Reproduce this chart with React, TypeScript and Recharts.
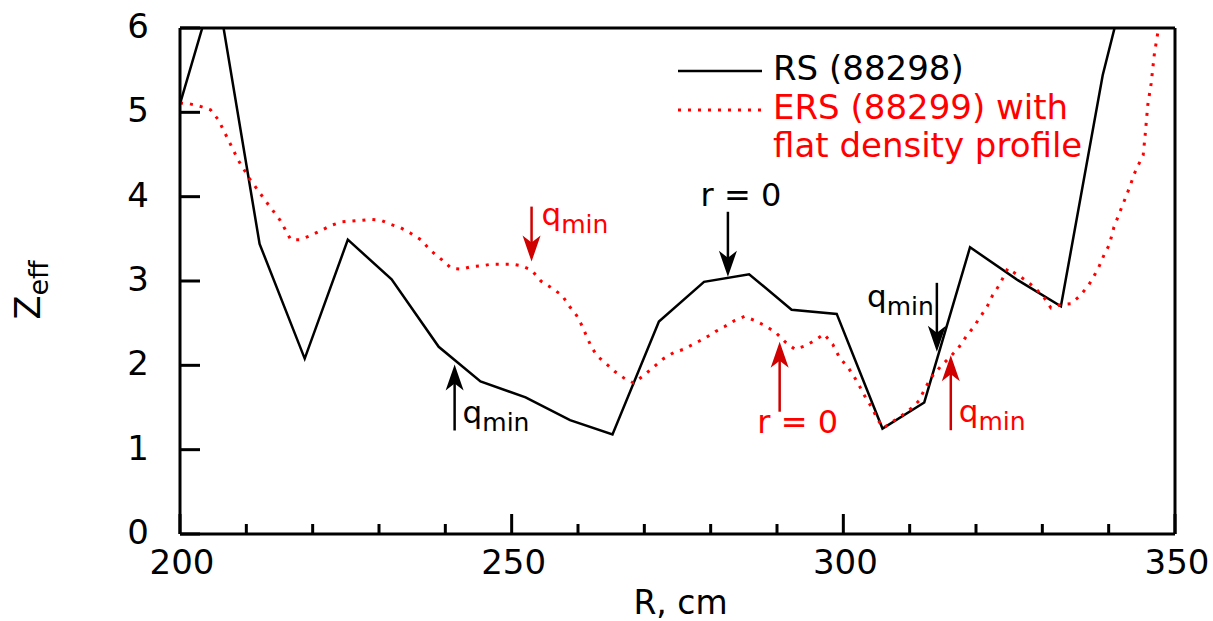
import React from 'react'
import { LineChart, Line, XAxis, YAxis, ReferenceDot, Legend } from 'recharts'

// RS (88298) shot, solid black
const rsR = [200, 205.4, 212.0, 218.8, 225.3, 231.9, 239.0, 245.3, 252.1, 258.8, 265.2, 272.2, 279.0, 285.8, 292.2, 299.0, 305.9, 312.2, 319.1, 326.3, 332.8, 339.1, 346.0]
const rsZ = [5.1, 6.55, 3.44, 2.08, 3.49, 3.02, 2.22, 1.81, 1.62, 1.35, 1.18, 2.52, 2.99, 3.08, 2.66, 2.61, 1.25, 1.56, 3.4, 3.01, 2.7, 5.44, 7.6]

// ERS (88299) shot, red dotted
const ersR = [
  200, 201.5, 203.1, 204.6, 205.8, 207.3, 208.8, 210.6, 212.9, 215.1, 216.7, 218.1, 219.7, 221.3, 222.8, 224.3,
  227.3, 228.8, 230.3, 231.8, 233.3, 234.7, 236.3, 237.8, 239.5, 240.9, 242.4, 243.9, 245.5, 247.0, 250.1, 251.5,
  253.0, 254.4, 255.8, 257.6, 258.7, 259.8, 260.6, 262.0, 262.9, 264.1, 265.5, 267.1, 268.4, 269.9, 271.4, 272.9,
  274.4, 275.9, 277.6, 279.1, 280.7, 282.1, 283.6, 285.1, 286.7, 288.2, 289.8, 291.2, 292.7, 294.2, 295.8, 297.1,
  298.4, 299.5, 300.6, 301.6, 302.6, 303.4, 304.4, 305.1, 306.1, 307.4, 308.9, 310.4, 311.4, 312.4, 313.4, 314.7,
  316.1, 317.3, 318.5, 319.6, 320.7, 321.7, 322.5, 323.5, 324.8, 326.3, 327.8, 329.0, 330.3, 331.3, 332.8, 334.3,
  335.6, 336.9, 337.8, 338.6, 339.3, 340.1, 340.8, 341.5, 342.1, 342.7, 343.3, 343.8, 344.5, 345.2, 345.5, 345.9,
  346.4, 346.9, 347.4, 347.9,
]
const ersZ = [
  5.11, 5.1, 5.07, 5.03, 4.91, 4.67, 4.43, 4.2, 3.95, 3.72, 3.49, 3.49, 3.54, 3.6, 3.66, 3.7,
  3.72, 3.73, 3.72, 3.67, 3.63, 3.57, 3.49, 3.36, 3.25, 3.15, 3.14, 3.17, 3.18, 3.2, 3.2, 3.18,
  3.13, 3.0, 2.93, 2.83, 2.7, 2.59, 2.47, 2.22, 2.11, 2.03, 1.93, 1.84, 1.79, 1.88, 1.98, 2.08,
  2.15, 2.19, 2.26, 2.32, 2.4, 2.46, 2.53, 2.58, 2.53, 2.47, 2.39, 2.28, 2.19, 2.23, 2.3, 2.37,
  2.25, 2.08, 1.99, 1.87, 1.73, 1.61, 1.49, 1.36, 1.26, 1.33, 1.41, 1.5, 1.58, 1.74, 1.87, 1.99,
  2.1, 2.2, 2.34, 2.45, 2.58, 2.7, 2.83, 2.95, 3.15, 3.07, 2.99, 2.91, 2.8, 2.68, 2.72, 2.73,
  2.82, 2.94, 3.06, 3.18, 3.31, 3.43, 3.64, 3.78, 3.9, 4.02, 4.14, 4.26, 4.38, 4.49, 4.73, 5.09,
  5.34, 5.7, 5.94, 6.2,
]

const seriesNames = ['RS (88298)', 'ERS (88299) with\nflat density profile']

const xTicks = [200, 210, 220, 230, 240, 250, 260, 270, 280, 290, 300, 310, 320, 330, 340, 350]
const xMajor = [200, 250, 300, 350]
const yTicks = [0, 1, 2, 3, 4, 5, 6]

// arrow tips (R, Zeff) and what they point at
const arrowR = [241.4, 253.0, 282.6, 290.4, 314.1, 316.2]
const arrowZ = [2.01, 3.23, 3.05, 2.28, 2.16, 2.12]
const arrowText = ['qmin', 'qmin', 'r = 0', 'r = 0', 'qmin', 'qmin']

const BLACK = '#000'
const RED = '#ff0000'
const DARKRED = '#d00000'
const FONT = 'DejaVu Sans'

const rsData = rsR.map((R, i) => ({ R, Z: rsZ[i] }))
const ersData = ersR.map((R, i) => ({ R, Z: ersZ[i] }))

const seriesStyle = [
  { stroke: BLACK, width: 2.5, dash: undefined as string | undefined, text: BLACK },
  { stroke: RED, width: 3, dash: '3 7', text: RED },
]

// per-arrow drawing style: direction, shaft length, colours, label offset
const arrowStyle = [
  { up: true, len: 66, stroke: BLACK, fill: BLACK, dx: 8, dy: 59, anchor: 'start' },
  { up: false, len: 55, stroke: DARKRED, fill: RED, dx: 10, dy: -37, anchor: 'start' },
  { up: false, len: 65, stroke: BLACK, fill: BLACK, dx: 13, dy: -71, anchor: 'middle' },
  { up: true, len: 70, stroke: DARKRED, fill: RED, dx: 18, dy: 91, anchor: 'middle' },
  { up: false, len: 69, stroke: BLACK, fill: BLACK, dx: -3, dy: -45, anchor: 'end' },
  { up: true, len: 75, stroke: DARKRED, fill: RED, dx: 8, dy: 67, anchor: 'start' },
]

const ArrowMark = ({ cx, cy, idx }: any) => {
  const s = arrowStyle[idx]
  const k = s.up ? 1 : -1
  const head = `M${cx},${cy} L${cx - 9},${cy + k * 26} L${cx},${cy + k * 19} L${cx + 9},${cy + k * 26} Z`
  const txt = arrowText[idx]
  return (
    <g>
      <line x1={cx} x2={cx} y1={cy + k * 16} y2={cy + k * s.len} stroke={s.stroke} strokeWidth={2.5} />
      <path d={head} fill={s.stroke} />
      {txt === 'qmin' ? (
        <text x={cx + s.dx} y={cy + s.dy} textAnchor={s.anchor} fill={s.fill} fontFamily={FONT}>
          <tspan fontSize={31}>q</tspan>
          <tspan fontSize={25} dy={8}>min</tspan>
        </text>
      ) : (
        <text x={cx + s.dx} y={cy + s.dy} textAnchor={s.anchor} fill={s.fill} fontFamily={FONT} fontSize={32}>
          {txt}
        </text>
      )}
    </g>
  )
}

const BottomTick = ({ x, y, payload }: any) => {
  const major = xMajor.includes(payload.value)
  return (
    <g>
      <line x1={x} x2={x} y1={y} y2={y - (major ? 20 : 10)} stroke={BLACK} strokeWidth={3} />
      {major && (
        <text x={x + 2} y={y + 40} textAnchor="middle" fontSize={34} fontFamily={FONT} fill={BLACK}>
          {payload.value}
        </text>
      )}
    </g>
  )
}

const TopTick = ({ x, y, payload }: any) => {
  const major = xMajor.includes(payload.value)
  return <line x1={x} x2={x} y1={y} y2={y + (major ? 20 : 10)} stroke={BLACK} strokeWidth={3} />
}

const LeftTick = ({ x, y, payload }: any) => (
  <g>
    <line x1={x} x2={x + 20} y1={y} y2={y} stroke={BLACK} strokeWidth={3} />
    <text x={x - 31} y={y + 10} textAnchor="end" fontSize={34} fontFamily={FONT} fill={BLACK}>
      {payload.value}
    </text>
  </g>
)

const RightTick = ({ x, y }: any) => <line x1={x} x2={x - 20} y1={y} y2={y} stroke={BLACK} strokeWidth={3} />

const ZeffLabel = ({ viewBox }: any) => {
  const cx = viewBox.x + 40
  const cy = viewBox.y + viewBox.height / 2 + 9
  return (
    <text transform={`translate(${cx},${cy}) rotate(-90)`} textAnchor="middle" fontFamily={FONT} fill={BLACK}>
      <tspan fontSize={35}>Z</tspan>
      <tspan fontSize={27} dy={8}>eff</tspan>
    </text>
  )
}

const RLabel = ({ viewBox }: any) => (
  <text x={viewBox.x + viewBox.width / 2 + 3} y={viewBox.y + 80} textAnchor="middle" fontSize={33} fontFamily={FONT} fill={BLACK}>
    R, cm
  </text>
)

const LegendBox = () => {
  let row = 0
  return (
    <svg width={440} height={130} style={{ overflow: 'visible' }}>
      {seriesNames.map((name, i) => {
        const lines = name.split('\n')
        const y0 = 40 + row * 39
        row += lines.length
        const s = seriesStyle[i]
        return (
          <g key={i}>
            <line x1={8} x2={92} y1={y0 - 9} y2={y0 - 9} stroke={s.stroke} strokeWidth={s.width} strokeDasharray={s.dash} />
            {lines.map((t, j) => (
              <text key={j} x={103} y={y0 + j * 38} fontSize={34} fontFamily={FONT} fill={s.text}>
                {t}
              </text>
            ))}
          </g>
        )
      })}
    </svg>
  )
}

export default function App() {
  return (
    <div style={{ position: 'absolute', left: 0, top: 0, background: '#fff', fontFamily: FONT }}>
      <LineChart width={1213} height={621} margin={{ top: 27, right: 37, left: 0, bottom: 0 }}>
        <XAxis
          dataKey="R"
          type="number"
          domain={[200, 350]}
          ticks={xTicks}
          interval={0}
          allowDataOverflow
          height={87}
          tickSize={0}
          tickMargin={0}
          tickLine={false}
          tick={<BottomTick />}
          axisLine={{ stroke: BLACK, strokeWidth: 3 }}
          label={<RLabel />}
        />
        <XAxis
          xAxisId="top"
          orientation="top"
          dataKey="R"
          type="number"
          domain={[200, 350]}
          ticks={xTicks}
          interval={0}
          height={1}
          tickSize={0}
          tickMargin={0}
          tickLine={false}
          tick={<TopTick />}
          axisLine={{ stroke: BLACK, strokeWidth: 3 }}
        />
        <YAxis
          type="number"
          domain={[0, 6]}
          ticks={yTicks}
          interval={0}
          allowDataOverflow
          width={180}
          tickSize={0}
          tickMargin={0}
          tickLine={false}
          tick={<LeftTick />}
          axisLine={{ stroke: BLACK, strokeWidth: 3 }}
          label={<ZeffLabel />}
        />
        <YAxis
          yAxisId="right"
          orientation="right"
          type="number"
          domain={[0, 6]}
          ticks={yTicks}
          interval={0}
          width={1}
          tickSize={0}
          tickMargin={0}
          tickLine={false}
          tick={<RightTick />}
          axisLine={{ stroke: BLACK, strokeWidth: 3 }}
        />
        <Legend
          layout="vertical"
          align="center"
          verticalAlign="middle"
          content={<LegendBox />}
          wrapperStyle={{ left: 670, top: 40, width: 440, height: 130 }}
        />
        <Line
          data={rsData}
          dataKey="Z"
          name={seriesNames[0]}
          type="linear"
          stroke={BLACK}
          strokeWidth={2.5}
          dot={false}
          activeDot={false}
          isAnimationActive={false}
        />
        <Line
          data={ersData}
          dataKey="Z"
          name={seriesNames[1]}
          type="linear"
          stroke={RED}
          strokeWidth={3}
          strokeDasharray="3 7"
          dot={false}
          activeDot={false}
          isAnimationActive={false}
        />
        {arrowR.map((R, i) => (
          <ReferenceDot
            key={i}
            x={R}
            y={arrowZ[i]}
            r={0}
            ifOverflow="visible"
            shape={(p: any) => <ArrowMark cx={p.cx} cy={p.cy} idx={i} />}
          />
        ))}
      </LineChart>
    </div>
  )
}
